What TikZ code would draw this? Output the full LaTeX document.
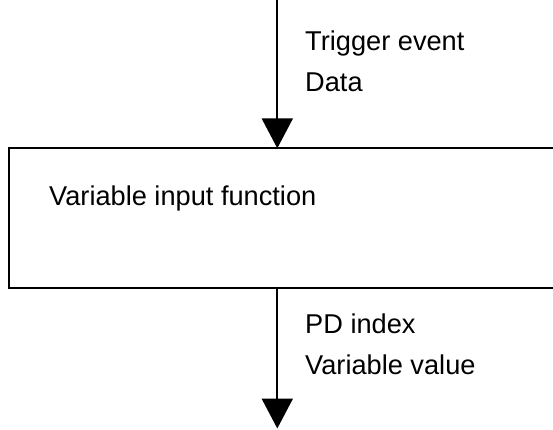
\documentclass[tikz,border=0pt]{standalone}
\usepackage{fontspec}
\setmainfont{Liberation Sans}
\usetikzlibrary{arrows.meta}
\begin{document}
\begin{tikzpicture}[x=1pt,y=1pt,
  lbl/.style={inner sep=0pt, anchor=base west, font=\fontsize{27.2}{32}\selectfont},
  boxstyle/.style={draw, line width=2.2pt, outer sep=0pt, inner sep=0pt, anchor=south west},
  arr/.style={line width=2.2pt, -{Triangle[width=31pt,length=30pt]}}]
\useasboundingbox (0,0) rectangle (553,429);
\clip (0,0) rectangle (553,429);
\node[boxstyle, minimum width=580pt, minimum height=139.7pt] (box) at (9.3,141) {};
\coordinate (top) at (277.3,432);
\coordinate (bot) at (277.3,0.5);
\draw[arr] (top) -- (top |- box.north);
\draw[arr] (bot |- box.south) -- (bot);
\node[lbl] (t1) at (305,378.3) {Trigger event};
\node[lbl] (t2) at (305,337.3) {Data};
\node[lbl] (t3) at (49,224) {Variable input function};
\node[lbl] (t4) at (305,95.7) {PD index};
\node[lbl] (t5) at (305,55) {Variable value};
\end{tikzpicture}
\end{document}
